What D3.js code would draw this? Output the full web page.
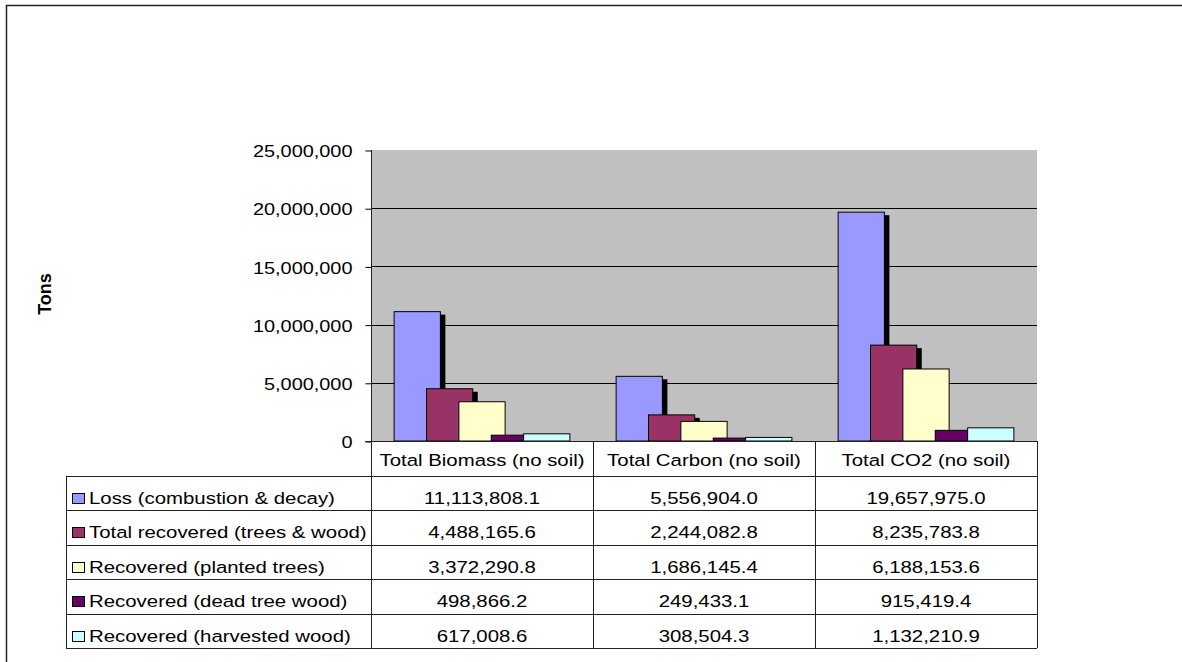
<!DOCTYPE html>
<html>
<head>
<meta charset="utf-8">
<script src="https://cdn.jsdelivr.net/npm/d3@7"></script>
<style>
  body { margin: 0; background: #fff; }
  text { font-family: "Liberation Sans", Arial, sans-serif; fill: #000; }
</style>
</head>
<body>
<div id="vis"></div>
<script>
const width = 1182;
const height = 662;

const categories = ["Total Biomass (no soil)", "Total Carbon (no soil)", "Total CO2 (no soil)"];
const seriesNames = [
  "Loss (combustion & decay)",
  "Total recovered (trees & wood)",
  "Recovered (planted trees)",
  "Recovered (dead tree wood)",
  "Recovered (harvested wood)"
];
const loss = [11113808.1, 5556904.0, 19657975.0];
const totalRecovered = [4488165.6, 2244082.8, 8235783.8];
const plantedTrees = [3372290.8, 1686145.4, 6188153.6];
const deadTreeWood = [498866.2, 249433.1, 915419.4];
const harvestedWood = [617008.6, 308504.3, 1132210.9];
const seriesColors = ["#9999FF", "#993366", "#FFFFCC", "#660066", "#CCFFFF"];
const yTicks = [0, 5000000, 10000000, 15000000, 20000000, 25000000];

const seriesValues = [loss, totalRecovered, plantedTrees, deadTreeWood, harvestedWood];
const series = seriesNames.map((name, i) => ({
  name, color: seriesColors[i], values: seriesValues[i], shadow: i < 2
}));

// layout
const plotLeft = 371, plotRight = 1037, plotTop = 150, plotBottom = 441;
const headerBottom = 476, rowH = 34.4, tableLeft = 66;
const tableBottom = headerBottom + rowH * series.length;
const SX = 1.2;      // text is drawn a little wide, like the original
const FS = "17px";

const svg = d3.select("#vis")
  .append("svg")
  .attr("width", width)
  .attr("height", height);

function label(x, y, str, anchor, size, weight) {
  return svg.append("text")
    .attr("transform", `translate(${x},${y}) scale(${SX},1)`)
    .attr("text-anchor", anchor || "start")
    .attr("font-size", size || FS)
    .attr("font-weight", weight || "normal")
    .text(str);
}

// chart area border
svg.append("rect")
  .attr("x", 6.5).attr("y", 5.5)
  .attr("width", 1300).attr("height", 800)
  .attr("fill", "#fff")
  .attr("stroke", "#222")
  .attr("stroke-width", 1.5);

const y = d3.scaleLinear()
  .domain([0, 25000000])
  .range([plotBottom, plotTop]);

const x0 = d3.scaleBand()
  .domain(categories)
  .range([plotLeft, plotRight]);

// plot area
svg.append("rect")
  .attr("x", plotLeft).attr("y", plotTop)
  .attr("width", plotRight - plotLeft)
  .attr("height", plotBottom - plotTop)
  .attr("fill", "#C0C0C0");

// gridlines
svg.selectAll(".grid")
  .data(yTicks.filter(d => d > 0 && d < 25000000))
  .enter()
  .append("line")
  .attr("x1", plotLeft).attr("x2", plotRight)
  .attr("y1", d => Math.round(y(d)) + 0.5)
  .attr("y2", d => Math.round(y(d)) + 0.5)
  .attr("stroke", "#000");

// y axis
const yAxis = svg.append("g")
  .attr("transform", `translate(${plotLeft + 0.5},0.5)`)
  .call(d3.axisLeft(y).tickValues(yTicks).tickSize(6).tickFormat(d3.format(",")));
yAxis.select(".domain").remove();
yAxis.selectAll(".tick line").attr("stroke", "#000");
yAxis.selectAll(".tick text")
  .attr("x", null)
  .attr("dy", "0.36em")
  .attr("font-size", FS)
  .attr("font-family", "Liberation Sans, Arial, sans-serif")
  .attr("fill", "#000")
  .attr("transform", `translate(-19,0) scale(1.17,1)`);

// bars (Excel style: 30% overlap, 100% gap width)
const overlap = 0.3, gapWidth = 1.0;
const barW = x0.bandwidth() / ((series.length - 1) * (1 - overlap) + 1 + gapWidth);
const barX = (cat, i) => x0(cat) + gapWidth * barW / 2 + i * barW * (1 - overlap);

series.forEach((s, i) => {
  const g = svg.append("g");
  if (s.shadow) {
    g.selectAll(".shadow")
      .data(categories)
      .enter()
      .append("rect")
      .attr("x", (c) => barX(c, i) + 5)
      .attr("y", (c, j) => y(s.values[j]) + 3)
      .attr("width", barW)
      .attr("height", (c, j) => plotBottom - 3 - y(s.values[j]))
      .attr("fill", "#000");
  }
  g.selectAll(".bar")
    .data(categories)
    .enter()
    .append("rect")
    .attr("x", (c) => barX(c, i))
    .attr("y", (c, j) => y(s.values[j]))
    .attr("width", barW)
    .attr("height", (c, j) => plotBottom - y(s.values[j]))
    .attr("fill", s.color)
    .attr("stroke", "#000")
    .attr("stroke-width", 1);
});

// data table
const tbl = svg.append("g").attr("stroke", "#222").attr("stroke-width", 1);
tbl.append("line")
  .attr("x1", plotLeft - 6).attr("x2", plotRight)
  .attr("y1", plotBottom + 0.5).attr("y2", plotBottom + 0.5);
d3.range(series.length + 1).forEach(r => {
  const yy = Math.round(headerBottom + r * rowH) + 0.5;
  tbl.append("line")
    .attr("x1", tableLeft).attr("x2", plotRight)
    .attr("y1", yy).attr("y2", yy);
});
tbl.append("line")
  .attr("x1", plotLeft + 0.5).attr("x2", plotLeft + 0.5)
  .attr("y1", plotTop).attr("y2", tableBottom);
categories.forEach(c => {
  const xx = Math.round(x0(c) + x0.bandwidth()) + 0.5;
  tbl.append("line")
    .attr("x1", xx).attr("x2", xx)
    .attr("y1", plotBottom).attr("y2", tableBottom);
});
tbl.append("line")
  .attr("x1", tableLeft + 0.5).attr("x2", tableLeft + 0.5)
  .attr("y1", headerBottom).attr("y2", tableBottom);

// column headers
categories.forEach(c => {
  label(x0(c) + x0.bandwidth() / 2, plotBottom + 25, c, "middle");
});

// rows
const fmt = d3.format(",.1f");
series.forEach((s, i) => {
  const top = headerBottom + i * rowH;
  svg.append("rect")
    .attr("x", 72.5).attr("y", Math.round(top + 17) + 0.5)
    .attr("width", 12).attr("height", 10)
    .attr("fill", s.color)
    .attr("stroke", "#000");
  label(89, top + 28, s.name, "start");
  categories.forEach((c, j) => {
    label(x0(c) + x0.bandwidth() / 2, top + 28, fmt(s.values[j]), "middle");
  });
});

// y axis title
svg.append("text")
  .attr("transform", "translate(51,294) rotate(-90)")
  .attr("text-anchor", "middle")
  .attr("font-size", "18px")
  .attr("font-weight", "bold")
  .text("Tons");
</script>
</body>
</html>
